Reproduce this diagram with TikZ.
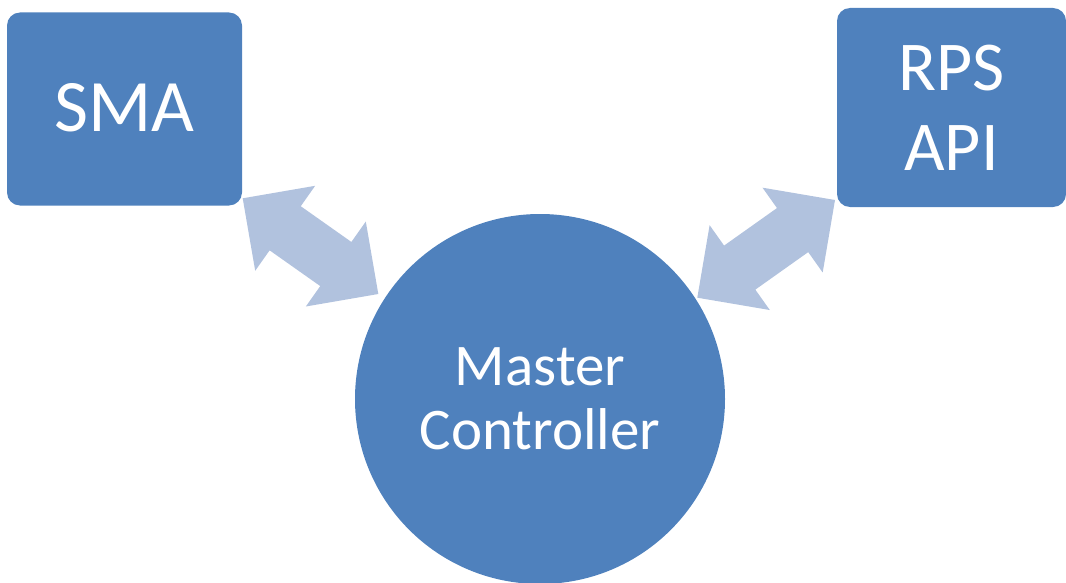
\documentclass[tikz,border=0pt]{standalone}
\usepackage{fontspec}
\setmainfont{Carlito}
\usetikzlibrary{calc}

\definecolor{boxblue}{RGB}{79,129,189}
\definecolor{linkblue}{RGB}{177,194,222}

% double-headed block arrow between two named points
% #1, #2: end points; head length/half width 52pt, half shaft width 27pt
\newcommand{\blockarrow}[2]{%
  \fill[linkblue] (#1)
    -- ($(#1)!52pt!(#2)!52pt!90:(#2)$)
    -- ($(#1)!52pt!(#2)!27pt!90:(#2)$)
    -- ($(#2)!52pt!(#1)!27pt!-90:(#1)$)
    -- ($(#2)!52pt!(#1)!52pt!-90:(#1)$)
    -- (#2)
    -- ($(#2)!52pt!(#1)!52pt!90:(#1)$)
    -- ($(#2)!52pt!(#1)!27pt!90:(#1)$)
    -- ($(#1)!52pt!(#2)!27pt!-90:(#2)$)
    -- ($(#1)!52pt!(#2)!52pt!-90:(#2)$)
    -- cycle;}

\begin{document}
\begin{tikzpicture}[x=1pt,y=-1pt,
  block/.style={fill=boxblue, rounded corners=13pt, text=white,
    align=center, inner sep=0pt},
  hub/.style={circle, fill=boxblue, text=white, align=center,
    minimum size=370pt, inner sep=0pt}]
  \useasboundingbox (0,0) rectangle (1066,583);

  \node[block, minimum width=235pt, minimum height=193pt,
        font=\fontsize{74}{80}\selectfont] (sma) at (124.5,109)
        {\raisebox{3pt}{SMA}};
  \node[block, minimum width=229pt, minimum height=199pt,
        font=\fontsize{70}{80}\selectfont] (rps) at (951.5,107.5) {RPS\\API};
  \node[hub, font=\fontsize{59}{64}\selectfont] (mc) at (540,399)
        {Master\\Controller};

  \coordinate (smaEnd) at (242.7,198.3);
  \coordinate (mcLeft) at (378.3,294);
  \coordinate (rpsEnd) at (835,200);
  \coordinate (mcRight) at (697.3,297.7);

  \blockarrow{smaEnd}{mcLeft}
  \blockarrow{rpsEnd}{mcRight}
\end{tikzpicture}
\end{document}
